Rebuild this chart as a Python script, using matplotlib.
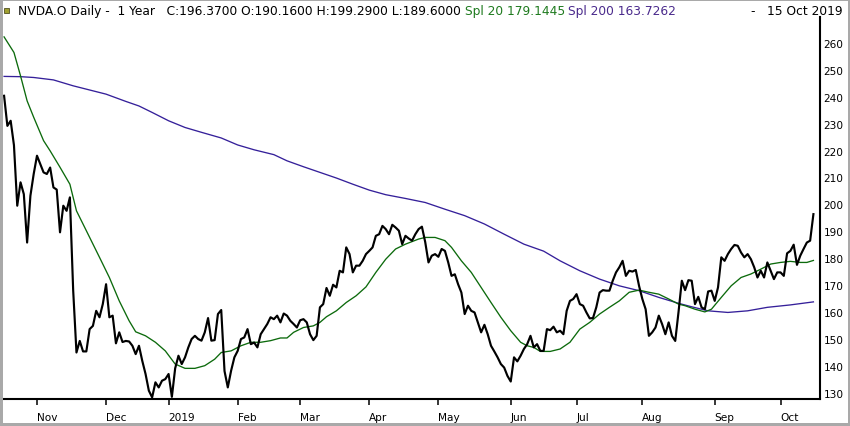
import numpy as np
import matplotlib
matplotlib.use("Agg")
import matplotlib.pyplot as plt
from matplotlib.patches import Rectangle

# ---------------- data ----------------
close = [
    240.4, 229.2, 231.1, 222.0, 199.5, 208.2, 203.8, 185.8, 203.2, 211.3,
    218.1, 215.0, 211.9, 211.3, 213.7, 206.3, 205.5, 189.6, 199.5, 197.6,
    202.6, 168.0, 144.9, 149.2, 145.3, 145.3, 153.6, 154.8, 160.4, 158.0,
    162.9, 170.3, 158.0, 158.6, 148.3, 152.4, 148.8, 149.2, 149.0, 147.4,
    144.3, 147.4, 141.8, 136.9, 130.7, 128.2, 133.8, 131.9, 134.4, 135.0,
    136.9, 128.4, 139.0, 143.7, 140.6, 143.1, 146.8, 149.9, 151.1, 149.9,
    149.3, 152.4, 157.7, 149.3, 149.5, 159.2, 160.7, 138.0, 131.9, 138.1,
    143.1, 145.5, 149.9, 150.5, 153.6, 148.0, 148.6, 146.8, 151.7, 153.6,
    155.5, 158.0, 157.3, 158.6, 156.1, 159.4, 158.6, 156.7, 155.5, 154.2,
    156.9, 157.3, 156.1, 151.7, 149.5, 151.1, 161.7, 162.9, 168.9, 166.0,
    170.1, 169.1, 175.3, 174.7, 184.0, 181.5, 174.7, 177.2, 177.2, 179.0,
    181.5, 182.7, 184.0, 188.3, 188.9, 192.0, 190.8, 188.9, 192.4, 191.4,
    190.2, 185.2, 188.3, 187.3, 186.5, 188.9, 190.8, 191.7, 186.0, 178.4,
    180.9, 181.5, 180.5, 183.4, 182.7, 178.4, 173.4, 174.0, 170.3, 167.2,
    159.2, 162.3, 160.4, 159.8, 156.1, 152.4, 155.2, 151.7, 147.4, 145.3,
    143.1, 140.6, 139.3, 136.2, 134.1, 143.1, 141.6, 143.7, 146.2, 148.0,
    151.1, 146.8, 148.0, 145.5, 145.5, 153.6, 153.2, 154.5, 152.4, 153.0,
    151.7, 160.4, 164.1, 164.8, 166.6, 162.9, 162.3, 159.8, 157.6, 157.7,
    161.7, 167.2, 168.1, 167.9, 167.9, 171.6, 174.7, 176.6, 179.0, 173.4,
    175.3, 175.0, 175.6, 169.7, 164.8, 161.0, 151.1, 152.4, 154.2, 158.6,
    155.5, 151.7, 156.1, 151.1, 149.2, 160.0, 171.6, 168.1, 171.8, 171.6,
    162.9, 165.6, 161.7, 161.0, 167.6, 167.9, 164.1, 169.1, 180.3, 179.0,
    181.5, 183.4, 184.9, 184.6, 182.1, 180.3, 181.5, 179.6, 176.6, 172.8,
    175.3, 172.8, 178.4, 175.3, 172.2, 174.7, 174.7, 173.4, 181.8, 182.7,
    185.0, 177.5, 180.9, 183.4, 185.8, 186.5, 196.37,
]

sma20_day = [0, 3, 5, 7, 9, 12, 14, 17, 20, 22, 25, 29, 32, 35, 38, 40, 43, 46,
             49, 52, 55, 58, 61, 64, 66, 69, 72, 75, 78, 81, 84, 86, 88, 91, 94,
             96, 98, 101, 104, 107, 110, 113, 116, 119, 122, 126, 128, 131, 134,
             136, 139, 142, 145, 148, 151, 154, 157, 159, 161, 163, 166, 169,
             172, 175, 178, 181, 184, 187, 190, 193, 196, 199, 202, 205, 207,
             210, 213, 215, 218, 221, 224, 227, 230, 233, 236, 239, 242, 244, 246]
sma20_val = [262.3, 256.5, 247.8, 238.5, 232.4, 223.7, 219.9, 213.8, 207.5, 197.6,
             190.2, 180.3, 172.8, 164.1, 156.7, 152.6, 151.1, 148.7, 145.5, 140.6,
             139.0, 139.0, 140.0, 142.4, 144.9, 145.5, 147.4, 148.7, 148.7, 149.3,
             150.3, 150.3, 152.4, 154.2, 154.8, 156.1, 158.2, 160.4, 163.5, 166.0,
             169.3, 174.7, 179.6, 183.4, 185.2, 187.1, 187.7, 187.7, 186.5, 184.0,
             179.0, 174.7, 169.1, 163.5, 158.0, 153.0, 148.7, 147.4, 146.8, 145.3,
             145.3, 146.2, 148.7, 153.6, 156.1, 159.2, 161.7, 164.1, 167.3, 168.1,
             167.3, 166.6, 164.8, 162.9, 162.3, 161.0, 160.0, 161.0, 165.4, 169.7,
             172.8, 174.1, 175.9, 177.8, 178.4, 178.8, 178.4, 178.4, 179.1445]

sma200_day = [0, 5, 9, 15, 21, 31, 37, 41, 45, 50, 55, 60, 66, 71, 76, 82, 86, 91,
              96, 101, 106, 111, 116, 122, 128, 134, 140, 146, 152, 158, 164, 169,
              175, 181, 187, 193, 199, 205, 209, 214, 220, 226, 232, 239, 246]
sma200_val = [247.6, 247.5, 247.2, 246.3, 244.1, 241.0, 238.3, 236.6, 234.2, 231.1,
              228.6, 226.8, 224.7, 222.1, 220.3, 218.5, 216.2, 214.0, 211.9, 209.8,
              207.5, 205.3, 203.6, 202.2, 200.7, 198.2, 195.8, 192.7, 188.9, 185.2,
              182.6, 179.0, 175.3, 172.2, 169.7, 167.9, 165.4, 163.2, 161.9, 160.4,
              159.8, 160.4, 161.7, 162.6, 163.7262]

month_labels = ["Nov", "Dec", "2019", "Feb", "Mar", "Apr", "May", "Jun",
                "Jul", "Aug", "Sep", "Oct"]
month_start_day = [10, 31, 50, 71, 90, 111, 132, 154, 174, 194, 216, 236]
y_ticks = [130, 140, 150, 160, 170, 180, 190, 200, 210, 220, 230, 240, 250, 260]

header_main = "NVDA.O Daily -  1 Year   C:196.3700 O:190.1600 H:199.2900 L:189.6000"
header_sma20 = "Spl 20 179.1445"
header_sma200 = "Spl 200 163.7262"
header_dash = "-"
header_date = "15 Oct 2019"

# ---------------- figure ----------------
W, H = 850, 427
fig = plt.figure(figsize=(W / 100, H / 100), dpi=100)
fig.patch.set_facecolor("white")

def px(x, y):
    return x / W, 1 - y / H

ax_left, ax_right, ax_top, ax_bot = 3, 820, 18, 400
ax = fig.add_axes([ax_left / W, 1 - ax_bot / H,
                   (ax_right - ax_left) / W, (ax_bot - ax_top) / H])
ax.set_facecolor("white")

green = "#0c6a0c"
purple = "#35209a"

ax.plot(sma200_day, sma200_val, color=purple, lw=0.95, zorder=2,
        solid_joinstyle="round")
ax.plot(sma20_day, sma20_val, color=green, lw=0.95, zorder=2,
        solid_joinstyle="round")
ax.plot(np.arange(len(close)), close, color="black", lw=1.55, zorder=3,
        solid_joinstyle="round")

ax.set_xlim(-0.33, 248.0)
ax.set_ylim(127.6, 269.7)

for s in ("left", "top"):
    ax.spines[s].set_visible(False)
for s in ("right", "bottom"):
    ax.spines[s].set_linewidth(1.5)
    ax.spines[s].set_color("black")

ax.yaxis.tick_right()
ax.set_yticks(y_ticks)
ax.set_yticklabels([str(v) for v in y_ticks])
ax.tick_params(axis="y", length=0, pad=2.5, labelsize=7.6, labelcolor="black")

ax.set_xticks(month_start_day)
ax.set_xticklabels(month_labels)
ax.tick_params(axis="x", direction="out", length=4.6, width=1.1, pad=4.6,
               labelsize=7.6, color="black")
for lab in ax.get_xticklabels():
    lab.set_horizontalalignment("left")

# ---------------- header ----------------
fig.canvas.draw()
renderer = fig.canvas.get_renderer()
hy = 1 - 11.8 / H
t = fig.text(*px(18, 0), header_main, fontsize=8, color="black", va="center")
t.set_y(hy)
w = t.get_window_extent(renderer).width
fs = 8 * 443 / w
t.set_fontsize(fs)
fig.text(465 / W, hy, header_sma20, fontsize=fs, color="#1e7a1e", va="center")
fig.text(568 / W, hy, header_sma200, fontsize=fs, color="#4a2a8c", va="center")
fig.text(750 / W, hy, header_dash, fontsize=fs, color="black", va="center")
fig.text(767 / W, hy, header_date, fontsize=fs, color="black", va="center")

# small header icon
fig.patches.append(Rectangle(px(4, 14), 5 / W, 5 / H, transform=fig.transFigure,
                             facecolor="#a0a030", edgecolor="#505020", lw=0.6))

# ---------------- grey border ----------------
grey = "#a9a9a9"
for (x0, y0, w0, h0) in [(0, 0, 3, H), (0, 0, W, 2), (0, H - 3, W, 3), (W - 2, 0, 2, H)]:
    fig.patches.append(Rectangle((x0 / W, 1 - (y0 + h0) / H), w0 / W, h0 / H,
                                 transform=fig.transFigure, facecolor=grey,
                                 edgecolor="none", zorder=10))

fig.savefig("out.png", dpi=100, facecolor="white")
